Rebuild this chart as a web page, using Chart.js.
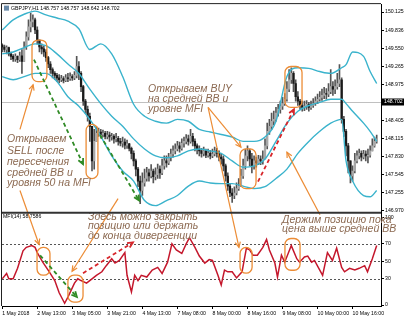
<!DOCTYPE html>
<html>
<head>
<meta charset="utf-8">
<script src="https://cdn.jsdelivr.net/npm/chart.js@4.4.0/dist/chart.umd.min.js"></script>
<style>
  html, body { margin: 0; padding: 0; background: #fff; overflow: hidden; }
</style>
</head>
<body>
<canvas id="gbpjpyChart" width="404" height="320"></canvas>
<script>
// ---- data (H1 bars, index 0 = first bar) ----
const xTickIdx = [0, 16, 32, 48, 64, 80, 96, 112, 128, 144, 160];
const xTickText = ['1 May 2018', '2 May 13:00', '3 May 05:00', '3 May 21:00', '4 May 13:00', '7 May 08:00',
  '8 May 00:00', '8 May 16:00', '9 May 08:00', '10 May 00:00', '10 May 16:00'];
const priceTicks = [150.125, 149.836, 149.550, 149.265, 148.975, 148.405, 148.115, 147.830, 147.545, 147.255, 146.970];
const mfiTicks = [100, 70, 50, 30, 0];
const mfiLevels = [70, 50, 30];
const lastPrice = 148.702;
const firstOpen = 149.60;

const closes = [
  149.57,149.53,149.56,149.46,149.42,149.38,149.42,149.37,149.43,149.34,
  149.57,149.73,149.89,149.97,150.00,149.84,149.68,149.57,149.54,149.49,
  149.40,149.30,149.21,149.15,149.12,149.08,149.05,149.07,149.04,149.08,
  149.07,149.10,149.08,149.12,149.26,149.15,148.94,148.71,148.58,148.47,
  148.31,147.76,148.07,148.20,148.22,148.18,148.20,148.15,148.17,148.14,
  148.15,148.11,148.12,148.07,148.04,148.06,148.01,148.03,147.96,147.88,
  147.76,147.63,147.44,147.29,147.41,147.48,147.57,147.52,147.60,147.51,
  147.54,147.63,147.57,147.68,147.76,147.73,147.82,147.87,147.92,147.95,
  148.00,147.96,148.04,148.07,148.11,148.07,148.15,148.07,148.00,147.95,
  147.92,147.88,147.92,147.85,147.88,147.84,147.87,147.92,147.88,147.82,
  147.79,147.68,147.52,147.36,147.25,147.21,147.25,147.32,147.36,147.52,
  147.68,147.84,147.92,147.79,147.68,147.76,147.73,147.79,147.76,147.79,
  148.00,148.23,148.31,148.39,148.42,148.52,148.58,148.63,148.67,148.74,
  148.90,149.05,149.15,148.99,148.78,148.71,148.64,148.61,148.63,148.66,
  148.61,148.64,148.67,148.71,148.74,148.77,148.80,148.83,148.82,148.86,
  148.94,148.90,148.94,148.99,149.05,148.42,148.23,148.00,147.76,147.52,
  147.60,147.76,147.84,147.88,147.82,147.87,147.84,147.85,147.92,148.00,
  148.07,148.11
];
const highs = [
  149.62,149.60,149.59,149.57,149.49,149.45,149.46,149.43,149.49,149.53,
  149.65,149.81,150.00,150.11,150.08,150.03,149.89,149.68,149.62,149.59,
  149.53,149.42,149.34,149.24,149.18,149.15,149.13,149.12,149.10,149.13,
  149.15,149.16,149.13,149.18,149.42,149.34,149.18,148.96,148.74,148.63,
  148.52,148.31,148.26,148.31,148.28,148.26,148.25,148.23,148.23,148.22,
  148.20,148.18,148.20,148.15,148.12,148.14,148.11,148.09,148.04,147.98,
  147.92,147.79,147.66,147.52,147.57,147.63,147.66,147.63,147.70,147.63,
  147.65,147.71,147.68,147.79,147.84,147.84,147.88,147.95,148.00,148.03,
  148.07,148.06,148.11,148.14,148.18,148.17,148.26,148.20,148.11,148.03,
  148.00,147.96,147.98,147.95,147.95,147.93,147.95,147.98,147.96,147.92,
  147.88,147.84,147.71,147.57,147.40,147.32,147.35,147.41,147.48,147.63,
  147.79,147.95,148.00,147.95,147.88,147.84,147.82,147.85,147.84,147.92,
  148.11,148.36,148.42,148.52,148.55,148.61,148.66,148.71,148.77,148.83,
  149.02,149.21,149.24,149.18,149.05,148.86,148.74,148.71,148.71,148.72,
  148.69,148.71,148.75,148.78,148.82,148.86,148.90,148.93,148.91,148.99,
  149.21,149.02,149.05,149.15,149.29,149.08,148.47,148.26,148.04,147.76,
  147.68,147.88,147.92,147.95,147.92,147.93,147.92,147.95,148.00,148.11,
  148.14,148.17
];
const lows = [
  149.49,149.49,149.46,149.43,149.37,149.34,149.34,149.32,149.34,149.15,
  149.34,149.53,149.68,149.81,149.89,149.78,149.62,149.49,149.46,149.42,
  149.34,149.24,149.15,149.08,149.05,149.02,149.00,149.02,149.00,149.02,
  149.02,149.04,149.04,149.05,149.08,149.05,148.86,148.64,148.52,148.39,
  148.07,147.60,147.63,148.07,148.15,148.12,148.14,148.11,148.11,148.07,
  148.09,148.04,148.06,148.01,148.00,147.98,147.95,147.96,147.92,147.79,
  147.68,147.52,147.35,147.08,147.21,147.36,147.44,147.44,147.49,147.41,
  147.46,147.48,147.48,147.54,147.63,147.66,147.70,147.76,147.82,147.87,
  147.92,147.90,147.93,147.98,148.03,148.01,148.04,148.00,147.92,147.87,
  147.84,147.82,147.84,147.81,147.82,147.79,147.81,147.84,147.82,147.76,
  147.71,147.60,147.44,147.29,147.19,147.10,147.16,147.22,147.29,147.35,
  147.48,147.63,147.76,147.68,147.57,147.63,147.66,147.70,147.70,147.71,
  147.79,147.95,148.18,148.26,148.33,148.39,148.47,148.52,148.58,148.64,
  148.71,148.86,148.99,148.86,148.71,148.64,148.58,148.55,148.56,148.58,
  148.55,148.58,148.61,148.64,148.67,148.71,148.72,148.75,148.74,148.78,
  148.83,148.80,148.83,148.90,148.94,148.36,148.15,147.84,147.57,147.41,
  147.44,147.57,147.73,147.79,147.76,147.79,147.76,147.73,147.82,147.92,
  147.98,148.04
];

// Bollinger bands, read at these bar indices
const bandIdx = [0,5,10,15,20,25,30,35,40,45,50,55,60,65,70,75,80,85,90,95,100,105,110,115,120,125,130,135,140,145,150,155,157,160,165,168,171];
const bbUpper = [149.84,150.00,150.09,150.14,150.08,150.03,149.98,149.86,149.53,149.62,149.46,149.10,148.66,148.47,148.39,148.36,148.42,148.39,148.26,148.22,
  148.18,148.14,148.07,148.07,148.14,148.39,149.10,149.24,149.23,149.18,149.15,149.24,149.29,149.49,149.42,149.18,148.99];
const bbMiddle = [149.46,149.49,149.56,149.62,149.59,149.46,149.30,149.15,148.90,148.67,148.47,148.31,148.11,147.95,147.84,147.81,147.84,147.92,147.95,147.92,
  147.88,147.76,147.66,147.68,147.79,148.07,148.36,148.55,148.64,148.69,148.74,148.74,148.67,148.55,148.36,148.23,148.07];
const bbLower = [149.10,149.05,149.10,149.15,149.15,149.02,148.78,148.63,148.42,148.15,147.84,147.60,147.44,147.13,147.05,147.13,147.21,147.36,147.44,147.41,
  147.40,147.40,147.36,147.32,147.35,147.48,147.63,147.88,148.07,148.23,148.36,148.42,147.76,147.44,147.21,147.19,147.29];

// MFI(14), read at these bar indices
const mfiIdx = [0,2,3,5,7,9.5,11,13.5,15,16,18.5,21.5,24,26,28.5,30,31.5,33,34.5,36,38.5,41,43,45.5,47.5,50,51.5,53.5,56,57,59,60.5,62,63.5,66,68.5,71,73,75.5,77.5,
  79.5,82,84,85.5,88,90,92.5,94.5,96,98.5,100,101.5,103,105,107,109.5,111.5,113,114.5,116.5,119,120.7,122,124.5,125.7,127.5,129,132,134.5,135.8,
  138,139.5,141.3,142.6,145,146.3,148.5,150.8,152.7,155,156.3,158.6,161,163,165.5,166.8,169,171];
const mfiVal = [30,36,30,30,42,62,66,68,66,60,49,38,28,14,2,9,17,25,30,28,25,30,34,38,45,53,48,51,60,34,15,34,28,34,32,40,43,36,49,70,
  63,59,70,77,66,56,48,52,51,34,23,40,38,38,31,38,65,63,57,57,66,75,63,48,32,57,49,68,53,49,
  55,56,49,51,40,34,60,51,65,43,38,42,40,42,45,38,53,68];

// ---- marks drawn over the chart (bar index, value, axis) ----
const noteBoxes = [
  [13.6, 149.68, 20.4, 149.02, 'y'], [38.3, 148.34, 43.7, 147.48, 'y'],
  [108.6, 147.95, 115.9, 147.32, 'y'], [129.1, 149.26, 136.9, 148.61, 'y'],
  [15.9, 65.9, 21.8, 34.1, 'mfi'], [30.0, 34.1, 36.9, 3.4, 'mfi'],
  [108.6, 65.9, 114.1, 36.4, 'mfi'], [129.1, 76.1, 136.0, 39.8, 'mfi']
];
const noteArrows = [
  // [i1, v1, axis1, i2, v2, axis2, style]
  [8.1, 148.26, 'y', 14.1, 148.97, 'y', 'o'],
  [8.1, 147.29, 'y', 16.8, 69.3, 'mfi', 'o'],
  [94, 148.61, 'y', 109, 147.98, 'y', 'o'],
  [94, 148.61, 'y', 108.1, 65.9, 'mfi', 'o'],
  [52.9, 147.16, 'y', 31.9, 38.6, 'mfi', 'o'],
  [145.1, 103.4, 'mfi', 130.0, 147.90, 'y', 'o'],
  [14.5, 149.37, 'y', 36.9, 147.71, 'y', 'g'],
  [44.7, 148.17, 'y', 62.5, 147.13, 'y', 'g'],
  [17.3, 56.8, 'mfi', 34.1, 9.1, 'mfi', 'g'],
  [116.8, 147.43, 'y', 133.2, 148.58, 'y', 'r'],
  [36.9, 36.4, 'mfi', 59.7, 71.6, 'mfi', 'r']
];
const noteTexts = [
  { i: 66.6, axis: 'y', at: [148.90, 148.74, 148.59], lines: ['Открываем BUY', 'на средней BB и', 'уровне MFI'] },
  { i: 2.2, axis: 'y', at: [148.11, 147.92, 147.74, 147.57, 147.41],
    lines: ['Открываем', 'SELL после', 'пересечения', 'средней BB и', 'уровня 50 на MFI'] },
  { i: 39.2, axis: 'mfi', at: [101.1, 89.8, 78.4], lines: ['Здесь можно закрыть', 'позицию или держать', 'до конца дивергенции'] },
  { i: 127.8, axis: 'mfi', at: [97.7, 86.4], lines: ['Держим позицию пока', 'цена выше средней BB'] }
];

const opens = closes.map((c, i) => i === 0 ? firstOpen : closes[i - 1]);
const pts = (xs, ys) => xs.map((x, k) => ({ x: x, y: ys[k] }));

const tickFont = { family: '"Liberation Sans", Arial, sans-serif', size: 5.2 };
const bandColor = '#3ab3cc';

function roundBox(ctx, x1, y1, x2, y2, r) {
  const x = Math.min(x1, x2), y = Math.min(y1, y2);
  const w = Math.abs(x2 - x1), h = Math.abs(y2 - y1);
  r = Math.min(r, w / 2, h / 2);
  ctx.beginPath();
  ctx.moveTo(x + r, y);
  ctx.arcTo(x + w, y, x + w, y + h, r);
  ctx.arcTo(x + w, y + h, x, y + h, r);
  ctx.arcTo(x, y + h, x, y, r);
  ctx.arcTo(x, y, x + w, y, r);
  ctx.closePath();
  ctx.stroke();
}

function arrow(ctx, x1, y1, x2, y2, head) {
  ctx.beginPath();
  ctx.moveTo(x1, y1);
  ctx.lineTo(x2, y2);
  ctx.stroke();
  const a = Math.atan2(y2 - y1, x2 - x1);
  ctx.setLineDash([]);
  ctx.beginPath();
  ctx.moveTo(x2 - head * Math.cos(a - 0.45), y2 - head * Math.sin(a - 0.45));
  ctx.lineTo(x2, y2);
  ctx.lineTo(x2 - head * Math.cos(a + 0.45), y2 - head * Math.sin(a + 0.45));
  ctx.stroke();
}

const overlay = {
  id: 'overlay',
  beforeDatasetsDraw(chart) {
    const { ctx, chartArea: a, scales } = chart;
    ctx.save();
    // last price line
    const yp = Math.round(scales.y.getPixelForValue(lastPrice)) + 0.5;
    ctx.strokeStyle = '#c0c0c0';
    ctx.lineWidth = 1;
    ctx.beginPath(); ctx.moveTo(a.left, yp); ctx.lineTo(a.right, yp); ctx.stroke();
    // MFI levels
    ctx.strokeStyle = '#555';
    ctx.setLineDash([2, 2]);
    mfiLevels.forEach(v => {
      const y = Math.round(scales.mfi.getPixelForValue(v)) + 0.5;
      ctx.beginPath(); ctx.moveTo(a.left, y); ctx.lineTo(a.right, y); ctx.stroke();
    });
    ctx.restore();
  },
  afterDatasetsDraw(chart) {
    const { ctx, scales } = chart;
    const X = i => scales.x.getPixelForValue(i);
    const Y = (v, ax) => scales[ax].getPixelForValue(v);
    ctx.save();
    ctx.strokeStyle = '#ec8c35';
    ctx.lineWidth = 1.3;
    noteBoxes.forEach(b => roundBox(ctx, X(b[0]), Y(b[1], b[4]), X(b[2]), Y(b[3], b[4]), 6));
    noteArrows.forEach(n => {
      if (n[6] === 'o') { ctx.strokeStyle = '#ec8c35'; ctx.lineWidth = 1.2; ctx.setLineDash([]); }
      else if (n[6] === 'g') { ctx.strokeStyle = '#2f8a25'; ctx.lineWidth = 1.8; ctx.setLineDash([4, 3]); }
      else { ctx.strokeStyle = '#d7262b'; ctx.lineWidth = 1.8; ctx.setLineDash([4, 3]); }
      arrow(ctx, X(n[0]), Y(n[1], n[2]), X(n[3]), Y(n[4], n[5]), 6);
    });
    ctx.setLineDash([]);
    ctx.fillStyle = '#8c6a52';
    ctx.font = 'italic 10.5px "Liberation Sans", Arial, sans-serif';
    ctx.textBaseline = 'middle';
    ctx.textAlign = 'left';
    noteTexts.forEach(t => t.lines.forEach((s, k) => ctx.fillText(s, X(t.i), Y(t.at[k], t.axis))));
    ctx.restore();
  },
  afterDraw(chart) {
    const { ctx, chartArea: a, scales } = chart;
    ctx.save();
    // frame and panel separator
    ctx.strokeStyle = '#222';
    ctx.lineWidth = 1;
    ctx.beginPath();
    ctx.moveTo(a.left - 0.5, a.top - 0.5); ctx.lineTo(a.right, a.top - 0.5);
    ctx.moveTo(a.left - 0.5, a.top - 0.5); ctx.lineTo(a.left - 0.5, a.bottom);
    ctx.stroke();
    ctx.lineWidth = 2;
    ctx.strokeStyle = '#333';
    const ys = scales.y.bottom;
    ctx.beginPath(); ctx.moveTo(a.left, ys); ctx.lineTo(a.right, ys); ctx.stroke();
    // header texts
    ctx.fillStyle = '#000';
    ctx.font = '5.2px "Liberation Sans", Arial, sans-serif';
    ctx.textBaseline = 'middle';
    ctx.textAlign = 'left';
    ctx.fillText('GBPJPY,H1 148.757 148.757 148.642 148.702', a.left + 9, a.top + 4);
    ctx.fillText('MFI(14) 58.7586', a.left + 1, ys + 4);
    ctx.fillStyle = '#6a8aa8';
    ctx.fillRect(a.left + 2, a.top + 1.5, 5, 5);
    // last price tag
    const yp = Math.round(scales.y.getPixelForValue(lastPrice));
    ctx.fillStyle = '#000';
    ctx.fillRect(a.right + 1, yp - 3.5, 22, 7);
    ctx.fillStyle = '#fff';
    ctx.fillText(lastPrice.toFixed(3), a.right + 3, yp);
    ctx.restore();
  }
};

const ctx = document.getElementById('gbpjpyChart').getContext('2d');
const bandLine = (ys) => ({ type: 'line', data: pts(bandIdx, ys), yAxisID: 'y', borderColor: bandColor,
  borderWidth: 1.4, pointRadius: 0, cubicInterpolationMode: 'monotone', order: 0 });
const chart = new Chart(ctx, {
  type: 'bar',
  data: {
    datasets: [
      { type: 'line', data: pts(mfiIdx, mfiVal), yAxisID: 'mfi', borderColor: '#c4172c', borderWidth: 1.5,
        pointRadius: 0, tension: 0, order: 0 },
      bandLine(bbUpper),
      bandLine(bbMiddle),
      bandLine(bbLower),
      { type: 'bar', data: closes.map((c, i) => ({ x: i, y: [opens[i], c] })), yAxisID: 'y',
        backgroundColor: closes.map((c, i) => c < opens[i] ? '#1a1a1a' : '#a8a8a8'),
        barThickness: 1.6, grouped: false, order: 1 },
      { type: 'bar', data: highs.map((h, i) => ({ x: i, y: [lows[i], h] })), yAxisID: 'y',
        backgroundColor: '#555', barThickness: 1, grouped: false, order: 2 }
    ]
  },
  options: {
    responsive: false,
    animation: false,
    layout: { padding: { left: 2, top: 2, right: 0, bottom: 0 } },
    plugins: { legend: { display: false }, tooltip: { enabled: false } },
    scales: {
      x: {
        type: 'linear', offset: false, min: -0.1, max: 172.96,
        grid: { offset: false, drawOnChartArea: false, drawTicks: true, tickLength: 3, color: '#000' },
        border: { display: true, color: '#000' },
        afterBuildTicks: s => { s.ticks = xTickIdx.map(v => ({ value: v })); },
        afterFit: s => { s.height = 14; },
        ticks: {
          autoSkip: false, maxRotation: 0, align: 'start', padding: 1, color: '#000', font: tickFont,
          callback: v => xTickText[xTickIdx.indexOf(v)]
        }
      },
      y: {
        type: 'linear', position: 'right', stack: 'panes', stackWeight: 210,
        min: 146.938, max: 150.251,
        grid: { drawOnChartArea: false, tickLength: 3, color: '#000' },
        border: { display: true, color: '#000' },
        afterBuildTicks: s => { s.ticks = priceTicks.map(v => ({ value: v })); },
        afterFit: s => { s.width = 23; },
        ticks: { autoSkip: false, padding: 1, color: '#000', font: tickFont, callback: v => v.toFixed(3) }
      },
      mfi: {
        type: 'linear', position: 'right', stack: 'panes', stackWeight: 94,
        min: -1.14, max: 105.7,
        grid: { drawOnChartArea: false, tickLength: 3, color: '#000' },
        border: { display: true, color: '#000' },
        afterBuildTicks: s => { s.ticks = mfiTicks.map(v => ({ value: v })); },
        afterFit: s => { s.width = 23; },
        ticks: { autoSkip: false, padding: 1, color: '#000', font: tickFont, callback: v => String(v) }
      }
    }
  },
  plugins: [overlay]
});
</script>
</body>
</html>
